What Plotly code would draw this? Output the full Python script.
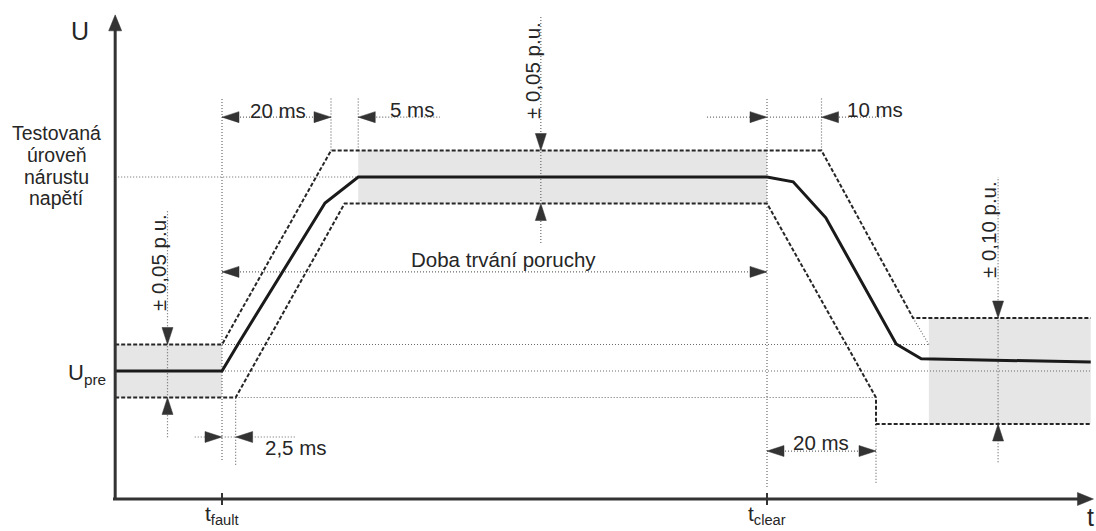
import plotly.graph_objects as go

# ---------------- data (time in ms from t_fault, voltage in p.u.) ----------------
T_FAULT = 0.0
T_CLEAR = 100.0
U_PRE = 1.0
U_TEST = 1.366
T_AXIS = -19.6     # where the U axis stands
U_AXIS = 0.7585    # where the t axis lies
T_END = 159.4
T_ARROW = 159.9
U_ARROW = 1.672

# measured voltage curve
curve_t = [T_AXIS, 0, 2.9, 18.9, 25, 100, 104.8, 110.8, 123.7, 128.3, T_END]
curve_u = [1.0, 1.0, 1.05, 1.317, 1.366, 1.366, 1.357, 1.289, 1.051, 1.023, 1.017]

# tolerance envelopes
upper_t = [T_AXIS, 0, 20, 110, 126.8, T_END]
upper_u = [1.05, 1.05, 1.416, 1.416, 1.10, 1.10]
upper_ext_t = [126.8, 129.7]
upper_ext_u = [1.10, 1.05]
lower_t = [T_AXIS, 2.5, 22.5, 100, 120, 120, T_END]
lower_u = [0.95, 0.95, 1.316, 1.316, 0.95, 0.90, 0.90]

# shaded tolerance bands: t0, t1, u0, u1
band_t0 = [T_AXIS, 25, 129.7]
band_t1 = [0, 100, T_END]
band_u0 = [0.95, 1.316, 0.90]
band_u1 = [1.05, 1.416, 1.10]

# dotted horizontal guides: t0, t1, u
hg_t0 = [T_AXIS, 0, 0, 2.5, 0, 25, 89, 0, -5, 100]
hg_t1 = [25, 129.7, T_END, 120, 20, 40, 121, 100, 13.4, 120]
hg_u = [U_TEST, 1.05, 1.0, 0.95, 1.479, 1.479, 1.479, 1.187, 0.8755, 0.849]

# dotted vertical guides: t, u0, u1
vg_t = [-10, 58.5, 142.4, 0, 2.5, 20, 25, 100, 110, 120]
vg_u0 = [0.875, 1.2415, 0.828, 0.832, 0.823, 1.416, 1.416, 0.781, 1.416, 0.789]
vg_u1 = [1.304, 1.668, 1.366, 1.517, 0.95, 1.517, 1.517, 1.517, 1.517, 0.90]

# dimension arrowheads: tip t, tip u, direction
ah_t = [0, 20, 25, 100, 110, 0, 100, 0, 2.5, 100, 120, -10, -10, 58.5, 58.5, 142.4, 142.4]
ah_u = [1.479, 1.479, 1.479, 1.479, 1.479, 1.187, 1.187, 0.8755, 0.8755, 0.849, 0.849,
        1.05, 0.95, 1.416, 1.316, 1.10, 0.90]
ah_dir = ['left', 'right', 'left', 'right', 'left', 'left', 'right', 'right', 'left', 'left', 'right',
          'down', 'up', 'down', 'up', 'down', 'up']

# text labels
lbl_text = ['20 ms', '5 ms', '10 ms', 'Doba trvání poruchy', '2,5 ms', '20 ms']
lbl_t = [10.2, 34.9, 119.8, 51.6, 13.6, 109.9]
lbl_u = [1.4906, 1.4925, 1.4925, 1.2113, 0.8566, 0.8642]

tol_text = ['± 0,05 p.u.', '± 0,05 p.u.', '± 0,10 p.u.']
tol_t = [-11.56, 57.06, 140.55]
tol_u = [1.2038, 1.568, 1.266]

level_lines = ['Testovaná', 'úroveň', 'nárustu', 'napětí']
level_t = -30.3
level_u = [1.449, 1.4075, 1.366, 1.327]

# ---------------- layout mapping (pixels) ----------------
W, H = 1096, 531
PX_PER_MS = 5.45
PX_PER_PU = 530.0
X0_PX = 222.0
Y0_PX = 371.0
x_range = [T_FAULT - X0_PX / PX_PER_MS, T_FAULT + (W - X0_PX) / PX_PER_MS]
y_range = [U_PRE - (H - Y0_PX) / PX_PER_PU, U_PRE + Y0_PX / PX_PER_PU]

FONT = "Liberation Sans, Arial, sans-serif"
INK = "#262626"
GUIDE = "#6a6a6a"
BAND = "#e6e6e6"

fig = go.Figure()

# bands
for t0, t1, u0, u1 in zip(band_t0, band_t1, band_u0, band_u1):
    fig.add_trace(go.Scatter(x=[t0, t1, t1, t0, t0], y=[u0, u0, u1, u1, u0], mode='lines',
                             fill='toself', fillcolor=BAND, line=dict(width=0),
                             hoverinfo='skip', showlegend=False))

# guides
gx, gy = [], []
for t0, t1, u in zip(hg_t0, hg_t1, hg_u):
    gx += [t0, t1, None]
    gy += [u, u, None]
for t, u0, u1 in zip(vg_t, vg_u0, vg_u1):
    gx += [t, t, None]
    gy += [u0, u1, None]
gx += upper_ext_t + [None]
gy += upper_ext_u + [None]
fig.add_trace(go.Scatter(x=gx, y=gy, mode='lines',
                         line=dict(color=GUIDE, width=1.2, dash='1px,2px'),
                         hoverinfo='skip', showlegend=False))

# envelopes
for tt, uu in [(upper_t, upper_u), (lower_t, lower_u)]:
    fig.add_trace(go.Scatter(x=tt, y=uu, mode='lines',
                             line=dict(color=INK, width=2, dash='4px,2px'),
                             hoverinfo='skip', showlegend=False))

# main curve
fig.add_trace(go.Scatter(x=curve_t, y=curve_u, mode='lines',
                         line=dict(color="#1a1a1a", width=3),
                         hoverinfo='skip', showlegend=False))

# axes
fig.add_trace(go.Scatter(x=[T_AXIS, T_AXIS, None, T_AXIS - 0.4, T_ARROW - 2],
                         y=[U_AXIS, U_ARROW - 0.02, None, U_AXIS, U_AXIS], mode='lines',
                         line=dict(color="#333333", width=3),
                         hoverinfo='skip', showlegend=False))
tx, ty = [], []
for t in [T_FAULT, T_CLEAR]:
    tx += [t, t, None]
    ty += [U_AXIS - 6 / PX_PER_PU, U_AXIS + 6 / PX_PER_PU, None]
fig.add_trace(go.Scatter(x=tx, y=ty, mode='lines', line=dict(color="#333333", width=2),
                         hoverinfo='skip', showlegend=False))


def head(t, u, d, L, Wd):
    kx, ky = 1 / PX_PER_MS, 1 / PX_PER_PU
    if d == 'left':
        return [t, t + L * kx, t + L * kx, t], [u, u + Wd * ky, u - Wd * ky, u]
    if d == 'right':
        return [t, t - L * kx, t - L * kx, t], [u, u + Wd * ky, u - Wd * ky, u]
    if d == 'up':
        return [t, t - Wd * kx, t + Wd * kx, t], [u, u - L * ky, u - L * ky, u]
    return [t, t - Wd * kx, t + Wd * kx, t], [u, u + L * ky, u + L * ky, u]


hx, hy = [], []
for t, u, d in zip(ah_t, ah_u, ah_dir):
    a, b = head(t, u, d, 17, 5.5)
    hx += a + [None]
    hy += b + [None]
for t, u, d in [(T_AXIS, U_ARROW, 'up'), (T_ARROW, U_AXIS, 'right')]:
    a, b = head(t, u, d, 16, 6.5)
    hx += a + [None]
    hy += b + [None]
fig.add_trace(go.Scatter(x=hx, y=hy, mode='lines', fill='toself', fillcolor="#333333",
                         line=dict(color="#333333", width=0.5),
                         hoverinfo='skip', showlegend=False))

ann = []
for s, t, u in zip(lbl_text, lbl_t, lbl_u):
    ann.append(dict(x=t, y=u, text=s, showarrow=False, xanchor='center', yanchor='middle',
                    font=dict(size=20.5, color=INK, family=FONT)))
for s, t, u in zip(tol_text, tol_t, tol_u):
    ann.append(dict(x=t, y=u, text=s, showarrow=False, textangle=-90,
                    xanchor='center', yanchor='middle',
                    font=dict(size=20.5, color=INK, family=FONT)))
for s, u in zip(level_lines, level_u):
    ann.append(dict(x=level_t, y=u, text=s, showarrow=False, xanchor='center', yanchor='middle',
                    font=dict(size=19.5, color=INK, family=FONT)))
ann += [
    dict(x=-26.1, y=1.6415, text='U', showarrow=False, xanchor='center', yanchor='middle',
         font=dict(size=25, color=INK, family=FONT)),
    dict(x=-20.9, y=0.995, text='U<sub>pre</sub>', showarrow=False, xanchor='right', yanchor='middle',
         font=dict(size=22, color=INK, family=FONT)),
    dict(x=T_FAULT, y=0.728, text='t<sub>fault</sub>', showarrow=False, xanchor='center', yanchor='middle',
         font=dict(size=21, color=INK, family=FONT)),
    dict(x=T_CLEAR, y=0.728, text='t<sub>clear</sub>', showarrow=False, xanchor='center', yanchor='middle',
         font=dict(size=21, color=INK, family=FONT)),
    dict(x=T_END, y=0.724, text='t', showarrow=False, xanchor='center', yanchor='middle',
         font=dict(size=25, color=INK, family=FONT)),
]

fig.update_layout(
    width=W, height=H, margin=dict(l=0, r=0, t=0, b=0),
    paper_bgcolor='white', plot_bgcolor='white', showlegend=False,
    xaxis=dict(range=x_range, visible=False, fixedrange=True),
    yaxis=dict(range=y_range, visible=False, fixedrange=True),
    annotations=ann,
)

fig.write_html("out.html", config=dict(displayModeBar=False))
